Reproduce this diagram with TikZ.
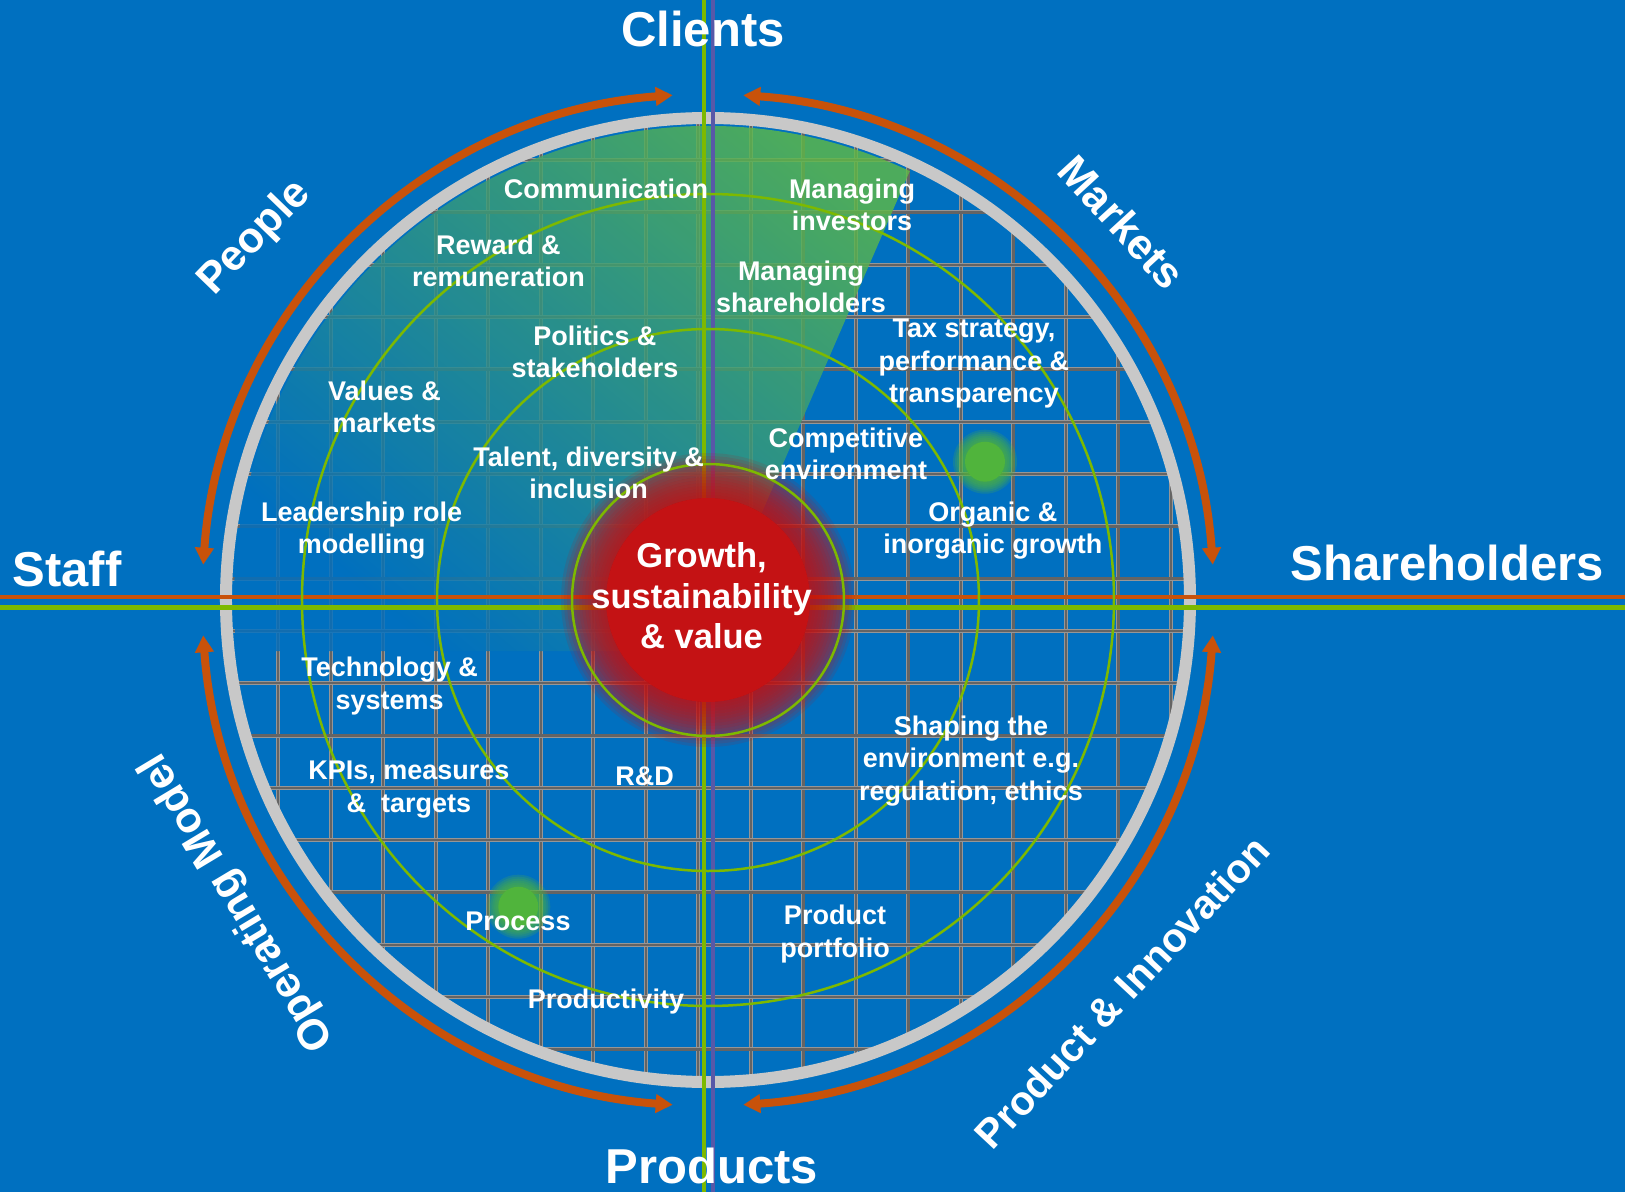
\documentclass[tikz,border=0pt]{standalone}
\usepackage{fontspec}
\setmainfont{Liberation Sans}
\usetikzlibrary{arrows.meta}

\definecolor{bgblue}{RGB}{0,112,192}
\definecolor{ringgray}{RGB}{200,200,200}
\definecolor{arcorange}{RGB}{200,82,10}
\definecolor{circlegreen}{RGB}{125,185,0}
\definecolor{axispurple}{RGB}{88,88,168}
\definecolor{gridgray}{RGB}{100,100,100}
\definecolor{gridedge}{RGB}{150,150,150}
\definecolor{wedgegreen}{RGB}{95,185,70}
\definecolor{blobred}{RGB}{196,18,20}
\definecolor{dotgreen}{RGB}{80,180,60}

\begin{document}
\begin{tikzpicture}[x=1pt, y=1pt,
  gridline/.style={draw=gridedge, line width=0.8pt, double=gridgray, double distance=2.4pt},
  wedgefill/.style={top color=wedgegreen, bottom color=bgblue, shading angle=-40, fill opacity=0.82},
  ringcircle/.style={line width=2.5pt, draw=circlegreen},
  cyclearrow/.style={line width=8pt, draw=arcorange, {Triangle[width=18pt,length=17pt]}-{Triangle[width=18pt,length=17pt]}},
  lbl/.style={text=white, align=center, font=\fontsize{27}{32.5}\selectfont\bfseries},
  corelbl/.style={text=white, align=center, font=\fontsize{34.5}{40.5}\selectfont\bfseries},
  axislbl/.style={text=white, anchor=base, font=\fontsize{49}{59}\selectfont\bfseries},
  sectorlbl/.style={text=white, font=\fontsize{43}{50}\selectfont\bfseries}
]
  \useasboundingbox (-708,-592) rectangle (917,600);
  \fill[bgblue] (-708,-592) rectangle (917,600);

  \begin{scope}
    \clip (0,0) circle (478);
    \foreach \k [evaluate=\k as \gx using -429.7+52.5*\k] in {-1,...,17}
      \draw[gridline] (\gx,-500) -- (\gx,500);
    \foreach \k [evaluate=\k as \gy using 126-52.3*\k] in {-6,...,11}
      \draw[gridline] (-500,\gy) -- (500,\gy);
  \end{scope}

  \shade[wedgefill] (16,0) -- (64.8:474) arc[start angle=64.8, end angle=186.2, radius=474] -- (-40,-51) -- cycle;

  \draw[ringgray, line width=12pt] (0,0) circle (482);

  \draw[cyclearrow] (94:506) arc[start angle=94, end angle=176, radius=506];
  \draw[cyclearrow] (86:506) arc[start angle=86, end angle=4, radius=506];
  \draw[cyclearrow] (-4:506) arc[start angle=-4, end angle=-86, radius=506];
  \draw[cyclearrow] (184:506) arc[start angle=184, end angle=266, radius=506];

  \draw[arcorange, line width=4.5pt] (-708,3) -- (917,3);
  \draw[circlegreen, line width=5pt] (-708,-7.7) -- (917,-7.7);
  \draw[circlegreen, line width=4pt] (-4,-592) -- (-4,600);
  \draw[axispurple, line width=4pt] (4.7,-592) -- (4.7,600);

  \fill[blobred] (0,0) circle (102);
  \foreach \r in {105,108,...,147}
    \fill[blobred, fill opacity=0.12] (0,0) circle (\r);
  \foreach \c in {(277,138.3),(-189.7,-306.7)} {
    \fill[dotgreen] \c circle (20);
    \foreach \r in {22,24,...,32}
      \fill[dotgreen, fill opacity=0.22] \c circle (\r);
  }

  \foreach \r in {136,271,406}
    \draw[ringcircle] (0,0) circle (\r);

  \node[corelbl] (core) at (-6.4,4) {Growth,\\sustainability\\\& value};

  \node[lbl] (comms) at (-102,411) {Communication};
  \node[lbl] (investors) at (144,395) {Managing\\investors};
  \node[lbl] (reward) at (-209.5,339) {Reward \&\\remuneration};
  \node[lbl] (holders) at (93,313) {Managing\\shareholders};
  \node[lbl] (politics) at (-113,248) {Politics \&\\stakeholders};
  \node[lbl] (tax) at (266,236) {Tax strategy,\\performance \&\\transparency};
  \node[lbl] (values) at (-323.5,193) {Values \&\\markets};
  \node[lbl] (compete) at (138,146) {Competitive\\environment};
  \node[lbl] (talent) at (-119.4,127.4) {Talent, diversity \&\\inclusion};
  \node[lbl] (leader) at (-346.3,69.4) {Leadership role\\modelling};
  \node[lbl] (organic) at (284.8,69.4) {Organic \&\\inorganic growth};
  \node[lbl] (tech) at (-318.4,-86) {Technology \&\\systems};
  \node[lbl] (shaping) at (263,-160.6) {Shaping the\\environment e.g.\\regulation, ethics};
  \node[lbl] (kpis) at (-299,-189.6) {KPIs, measures\\\&\ \ targets};
  \node[lbl] (rnd) at (-63.4,-176) {R\&D};
  \node[lbl] (process) at (-190,-321) {Process};
  \node[lbl] (portfolio) at (127,-334) {Product\\portfolio};
  \node[lbl] (productivity) at (-102,-402) {Productivity};

  \node[axislbl] (clients) at (-5,553.3) {Clients};
  \node[axislbl] (staff) at (-641,13.5) {Staff};
  \node[axislbl] (holderaxis) at (739,20) {Shareholders};
  \node[axislbl] (products) at (4,-583) {Products};

  \node[sectorlbl, rotate=46] (people) at (-453,362) {People};
  \node[sectorlbl, rotate=-47.5] (markets) at (414,378) {Markets};
  \node[sectorlbl, rotate=121] (opmodel) at (-470,-302) {Operating Model};
  \node[sectorlbl, font=\fontsize{40.5}{48}\selectfont\bfseries, rotate=47] (prodinno) at (414,-392) {Product \& Innovation};
\end{tikzpicture}
\end{document}
